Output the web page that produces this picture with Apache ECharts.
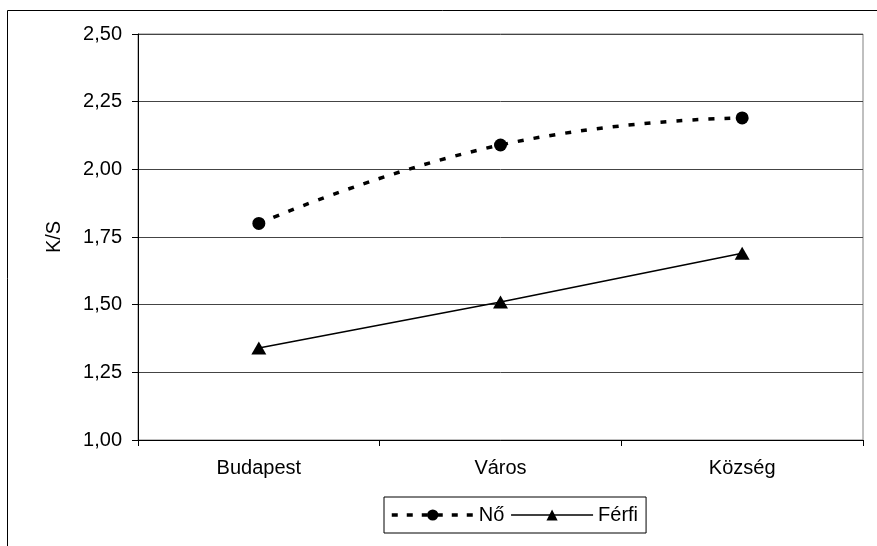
<!DOCTYPE html>
<html>
<head>
<meta charset="utf-8">
<script src="https://cdn.jsdelivr.net/npm/echarts@6/dist/echarts.min.js"></script>
<style>
html,body{margin:0;padding:0;background:#fff;}
#c{width:877px;height:546px;}
</style>
</head>
<body>
<div id="c"></div>
<script>
var categories = ['Budapest', 'Város', 'Község'];
var noValues = [1.80, 2.09, 2.19];
var ferfiValues = [1.34, 1.51, 1.69];
var yTicks = [1.00, 1.25, 1.50, 1.75, 2.00, 2.25, 2.50];

var FONT = '"Liberation Sans", Arial, sans-serif';
var FS = 20;
var chart = echarts.init(document.getElementById('c'), null, {renderer: 'canvas'});
chart.setOption({
  animation: false,
  backgroundColor: '#fff',
  textStyle: {fontFamily: FONT, color: '#000'},
  graphic: [{
    type: 'rect', silent: true, z: 100,
    shape: {x: 7.5, y: 10.5, width: 1000, height: 1000},
    style: {fill: null, stroke: '#000', lineWidth: 1}
  }],
  grid: {left: 138, top: 34, right: 14, bottom: 106, show: true, borderColor: '#808080', borderWidth: 1, backgroundColor: 'transparent'},
  legend: {
    left: 384, top: 497,
    padding: [8, 8, 8, 6],
    itemGap: 6,
    itemWidth: 82, itemHeight: 14,
    borderColor: '#000', borderWidth: 1,
    textStyle: {fontFamily: FONT, fontSize: FS, color: '#000'},
    data: [
      {name: 'Nő', lineStyle: {width: 3.5, type: [6, 9], color: '#000'}},
      {name: 'Férfi', lineStyle: {width: 1.5, type: 'solid', color: '#000'}}
    ]
  },
  xAxis: {
    type: 'category',
    data: categories,
    boundaryGap: true,
    axisLine: {lineStyle: {color: '#000', width: 1}},
    axisTick: {show: true, length: 6, lineStyle: {color: '#000'}},
    axisLabel: {fontFamily: FONT, fontSize: FS, color: '#000', margin: 18},
    splitLine: {show: false}
  },
  yAxis: {
    type: 'value',
    min: 1.00, max: 2.50, interval: 0.25,
    name: 'K/S',
    nameLocation: 'middle',
    nameGap: 74,
    nameRotate: 90,
    nameTextStyle: {fontFamily: FONT, fontSize: FS, color: '#000'},
    axisLine: {show: true, lineStyle: {color: '#000', width: 1}},
    axisTick: {show: true, length: 6, lineStyle: {color: '#000'}},
    axisLabel: {
      fontFamily: FONT, fontSize: FS, color: '#000', margin: 16,
      formatter: function (v) {
        var s = yTicks.find(function (t) { return Math.abs(t - v) < 1e-9; });
        return (s !== undefined ? s : v).toFixed(2).replace('.', ',');
      }
    },
    splitLine: {show: true, lineStyle: {color: '#444', width: 1}}
  },
  series: [
    {
      name: 'Nő', type: 'line', data: noValues,
      smooth: 0.5,
      symbol: 'circle', symbolSize: 13,
      itemStyle: {color: '#000'},
      lineStyle: {color: '#000', width: 3.5, type: [6, 10]}
    },
    {
      name: 'Férfi', type: 'line', data: ferfiValues,
      symbol: 'triangle', symbolSize: [15, 13],
      itemStyle: {color: '#000'},
      lineStyle: {color: '#000', width: 1.5, type: 'solid'}
    }
  ]
});
</script>
</body>
</html>
